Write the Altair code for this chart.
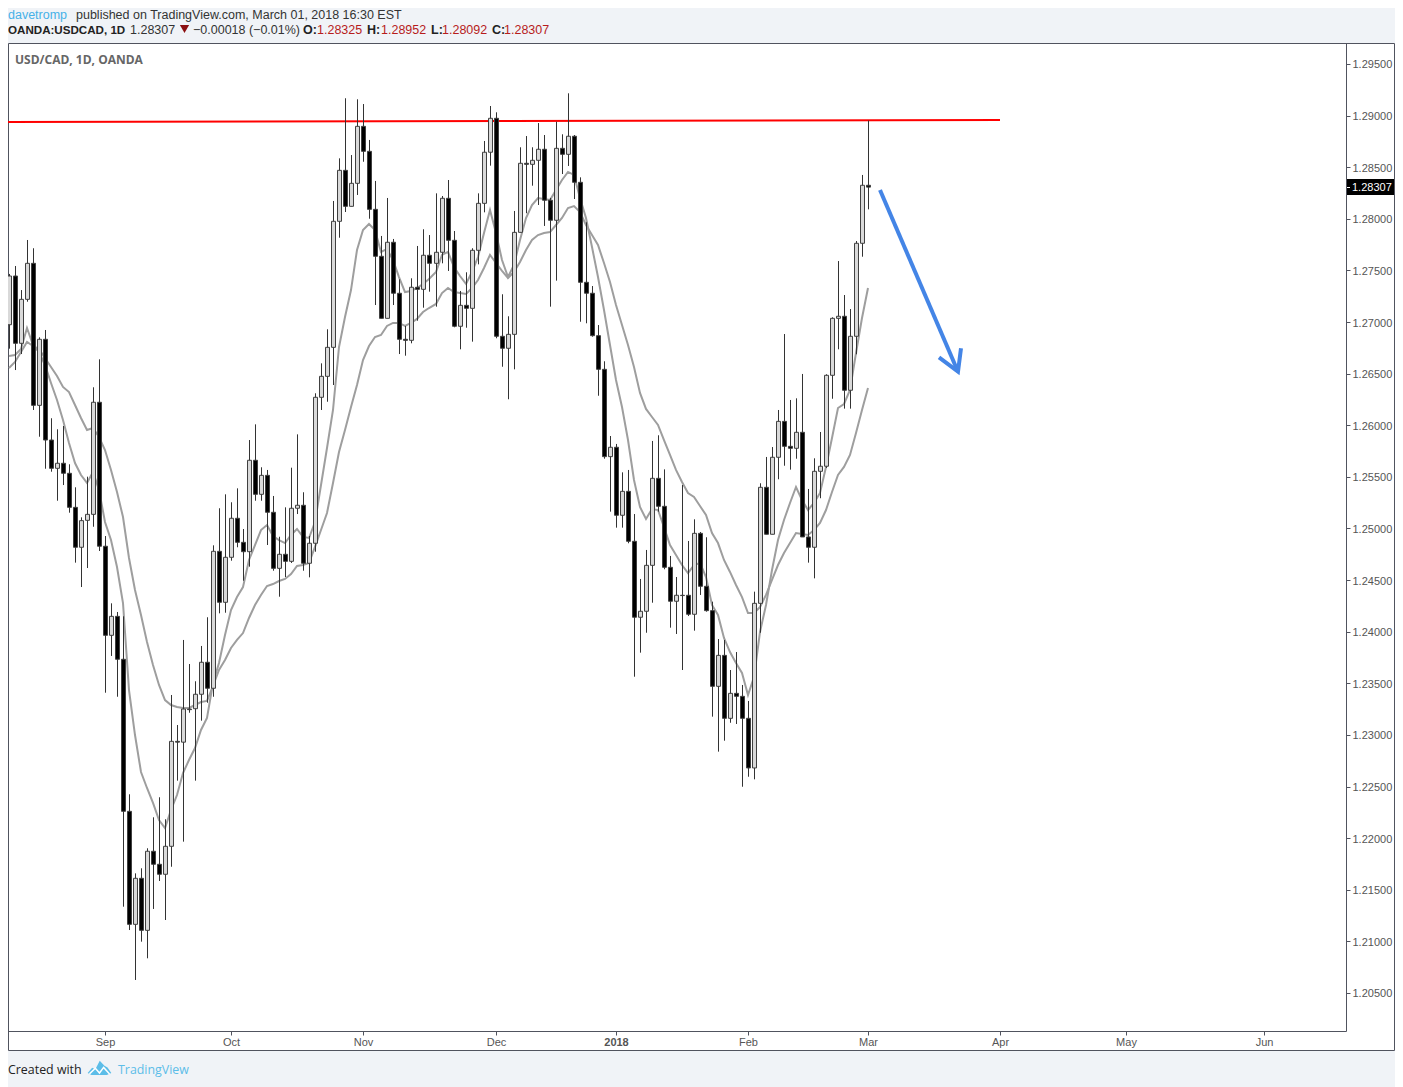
import altair as alt
import pandas as pd

OPEN = [1.26974,1.27446,1.26794,1.27220,1.27569,1.26193,1.26833,1.25857,1.25583,1.25632,1.25535,1.25205,1.24818,1.25079,1.25137,1.26223,
1.24828,1.23965,1.24149,1.23733,1.22260,1.21165,1.21611,1.21107,1.21873,1.21747,1.21650,1.21921,1.22938,1.22930,1.23251,1.23254,
1.23394,1.23704,1.23452,1.24779,1.24285,1.24721,1.25099,1.24866,1.24775,1.25661,1.25331,1.25515,1.25157,1.24614,1.24750,1.24682,
1.25196,1.25225,1.24663,1.24857,1.26271,1.26474,1.26755,1.27976,1.28470,1.28121,1.28344,1.28896,1.28654,1.28092,1.27637,1.27036,
1.27773,1.27279,1.26833,1.26823,1.27337,1.27317,1.27647,1.27569,1.27676,1.28199,1.27792,1.26959,1.27162,1.27133,1.27695,1.28150,
1.28645,1.28974,1.26862,1.26746,1.26881,1.27869,1.28538,1.28528,1.28567,1.28674,1.28180,1.27986,1.28683,1.28625,1.28800,1.28354,
1.27385,1.27279,1.26868,1.26542,1.25696,1.25787,1.25128,1.25360,1.24876,1.24140,1.24198,1.24643,1.25486,1.25215,1.24624,1.24295,
1.24353,1.24353,1.24169,1.24953,1.24440,1.24204,1.23471,1.23771,1.23161,1.23403,1.23374,1.23161,1.22680,1.24275,1.25399,1.24944,
1.25690,1.26038,1.25796,1.25777,1.25932,1.24918,1.24818,1.25554,1.25603,1.26484,1.27036,1.27056,1.26339,1.26862,1.27763,1.28325]
HIGH = [1.27466,1.27543,1.27310,1.27795,1.27715,1.26852,1.26923,1.26068,1.25961,1.25993,1.25622,1.25399,1.25108,1.25502,1.26368,1.26639,
1.24927,1.24275,1.24191,1.24149,1.22425,1.21659,1.21708,1.21902,1.22202,1.22396,1.22183,1.23387,1.23096,1.23920,1.23687,1.23520,
1.23862,1.24140,1.24837,1.25196,1.25331,1.25254,1.25389,1.24995,1.25857,1.26009,1.25593,1.25567,1.25315,1.24920,1.25205,1.25589,
1.25912,1.25351,1.24927,1.26310,1.26600,1.26930,1.28173,1.28586,1.29168,1.28618,1.29158,1.29112,1.28764,1.28367,1.27834,1.28202,
1.27805,1.27414,1.26962,1.27424,1.27737,1.27899,1.27843,1.28247,1.28221,1.28376,1.27882,1.27301,1.27482,1.27715,1.28247,1.28754,
1.29093,1.29032,1.27269,1.27056,1.28076,1.28693,1.28802,1.28693,1.28928,1.28812,1.28202,1.28941,1.28819,1.29216,1.28812,1.28402,
1.27966,1.27349,1.26971,1.26620,1.25896,1.25819,1.25544,1.25567,1.25140,1.24511,1.24792,1.25848,1.25903,1.25573,1.24734,1.24530,
1.25421,1.24879,1.25089,1.24966,1.24915,1.24291,1.23929,1.23920,1.23629,1.23803,1.23484,1.23329,1.24388,1.25438,1.25693,1.25789,
1.26148,1.26884,1.26245,1.26261,1.26497,1.25383,1.25680,1.25935,1.26494,1.27046,1.27591,1.27262,1.27126,1.27785,1.28425,1.28952]
LOW = [1.26742,1.26535,1.26690,1.27197,1.26148,1.25889,1.25579,1.25550,1.25269,1.25421,1.25153,1.24669,1.24433,1.24617,1.25017,1.24782,
1.23409,1.23765,1.23370,1.21336,1.21110,1.20626,1.20997,1.20836,1.21314,1.21585,1.21207,1.21723,1.22557,1.21966,1.23215,1.22557,
1.23138,1.23312,1.23370,1.24178,1.24184,1.24688,1.24818,1.24494,1.24630,1.25269,1.25269,1.24840,1.24591,1.24339,1.24530,1.24666,
1.25140,1.24591,1.24527,1.24775,1.26148,1.26228,1.26390,1.27817,1.28066,1.28121,1.28231,1.28553,1.28001,1.27165,1.27036,1.27036,
1.27165,1.26690,1.26674,1.26794,1.27013,1.27139,1.27294,1.27149,1.27569,1.27495,1.26949,1.26736,1.26945,1.26810,1.27559,1.28063,
1.28515,1.26843,1.26567,1.26252,1.26542,1.27869,1.28054,1.28321,1.28134,1.27931,1.27149,1.27401,1.28434,1.28512,1.28192,1.27003,
1.26988,1.26858,1.26286,1.25676,1.25163,1.25008,1.25008,1.24857,1.23564,1.23797,1.23990,1.24281,1.25163,1.24605,1.24039,1.23978,
1.23629,1.24152,1.24010,1.24356,1.24194,1.23177,1.22838,1.22944,1.23118,1.23106,1.22498,1.22595,1.22570,1.23990,1.24944,1.24944,
1.25477,1.25608,1.25570,1.25676,1.24918,1.24669,1.24517,1.25293,1.25586,1.26257,1.26736,1.26161,1.26161,1.26688,1.27633,1.28092]
CLOSE = [1.27446,1.26794,1.27220,1.27569,1.26193,1.26833,1.25857,1.25583,1.25632,1.25535,1.25205,1.24818,1.25076,1.25137,1.26223,1.24828,
1.23965,1.24149,1.23733,1.22260,1.21165,1.21611,1.21107,1.21873,1.21747,1.21650,1.21921,1.22938,1.22930,1.23251,1.23245,1.23394,
1.23704,1.23452,1.24779,1.24285,1.24721,1.25099,1.24866,1.24775,1.25661,1.25331,1.25515,1.25157,1.24614,1.24750,1.24682,1.25196,
1.25225,1.24663,1.24857,1.26271,1.26474,1.26755,1.27976,1.28470,1.28121,1.28344,1.28896,1.28654,1.28092,1.27637,1.27036,1.27773,
1.27279,1.26833,1.26823,1.27337,1.27317,1.27647,1.27569,1.27676,1.28199,1.27792,1.26959,1.27162,1.27133,1.27695,1.28150,1.28645,
1.28974,1.26862,1.26746,1.26881,1.27869,1.28538,1.28528,1.28567,1.28674,1.28180,1.27986,1.28683,1.28625,1.28800,1.28354,1.27385,
1.27279,1.26868,1.26542,1.25696,1.25787,1.25128,1.25360,1.24876,1.24140,1.24198,1.24643,1.25486,1.25215,1.24624,1.24295,1.24353,
1.24350,1.24169,1.24953,1.24440,1.24204,1.23471,1.23771,1.23161,1.23403,1.23374,1.23161,1.22680,1.24275,1.25399,1.24944,1.25690,
1.26038,1.25796,1.25777,1.25932,1.24918,1.24818,1.25554,1.25603,1.26484,1.27036,1.27056,1.26339,1.26862,1.27763,1.28325,1.28307]

MA_FAST = [1.26671,1.26681,1.26739,1.26942,1.26778,1.26710,1.26584,1.26410,1.26245,1.26051,1.25828,1.25634,1.25518,1.25441,1.25547,1.25373,
1.25063,1.24888,1.24627,1.24278,1.23435,1.22999,1.22641,1.22486,1.22341,1.22176,1.22098,1.22273,1.22418,1.22631,1.22757,1.22873,
1.23048,1.23164,1.23503,1.23697,1.23968,1.24210,1.24336,1.24433,1.24695,1.24840,1.24985,1.25034,1.24927,1.24888,1.24859,1.24937,
1.24995,1.24918,1.24908,1.25063,1.25421,1.25780,1.26148,1.26758,1.27049,1.27310,1.27698,1.27892,1.27950,1.27892,1.27679,1.27708,
1.27601,1.27436,1.27291,1.27301,1.27330,1.27369,1.27417,1.27485,1.27650,1.27679,1.27533,1.27446,1.27369,1.27485,1.27630,1.27863,
1.28086,1.27863,1.27601,1.27436,1.27553,1.27795,1.28008,1.28134,1.28202,1.28192,1.28182,1.28279,1.28376,1.28454,1.28425,1.28202,
1.28008,1.27727,1.27436,1.27117,1.26778,1.26439,1.26177,1.25857,1.25470,1.25208,1.25092,1.25189,1.25179,1.25014,1.24840,1.24743,
1.24646,1.24569,1.24646,1.24666,1.24530,1.24259,1.24162,1.23939,1.23803,1.23697,1.23600,1.23387,1.23561,1.23997,1.24259,1.24598,
1.24888,1.25082,1.25247,1.25402,1.25276,1.25179,1.25247,1.25344,1.25596,1.25877,1.26167,1.26206,1.26342,1.26700,1.27039,1.27330]
MA_SLOW = [1.26555,1.26613,1.26710,1.26807,1.26768,1.26739,1.26652,1.26565,1.26477,1.26371,1.26322,1.26196,1.26070,1.25954,1.25974,1.25886,
1.25760,1.25567,1.25354,1.25111,1.24714,1.24404,1.24162,1.23900,1.23678,1.23484,1.23338,1.23290,1.23271,1.23261,1.23261,1.23290,
1.23319,1.23329,1.23474,1.23629,1.23726,1.23842,1.23920,1.23987,1.24133,1.24259,1.24356,1.24443,1.24462,1.24491,1.24511,1.24559,
1.24637,1.24646,1.24666,1.24821,1.24985,1.25150,1.25441,1.25741,1.25954,1.26177,1.26390,1.26632,1.26768,1.26855,1.26875,1.26962,
1.26991,1.26991,1.26962,1.26991,1.27030,1.27097,1.27136,1.27175,1.27281,1.27330,1.27291,1.27281,1.27272,1.27330,1.27407,1.27524,
1.27650,1.27572,1.27495,1.27427,1.27485,1.27582,1.27698,1.27795,1.27843,1.27863,1.27872,1.27940,1.28008,1.28105,1.28124,1.28066,
1.27940,1.27843,1.27746,1.27572,1.27388,1.27165,1.26971,1.26778,1.26565,1.26313,1.26158,1.26080,1.26003,1.25857,1.25712,1.25567,
1.25450,1.25344,1.25305,1.25218,1.25131,1.24956,1.24859,1.24695,1.24579,1.24453,1.24336,1.24181,1.24181,1.24239,1.24356,1.24501,
1.24646,1.24763,1.24859,1.24956,1.24947,1.24937,1.24985,1.25053,1.25179,1.25354,1.25518,1.25596,1.25712,1.25925,1.26148,1.26361]

RED_BAR = [-0.25, 164.9]
RED_PRICE = [1.28938, 1.28957]
ARROW_BAR = [145.0, 158.0, 154.9, 158.0, 158.55]
ARROW_PRICE = [1.28279, 1.26519, 1.26658, 1.26519, 1.26745]
ARROW_PART = ["shaft", "shaft", "head", "head", "head"]

TICK_BARS = [16, 37, 59, 81, 101, 123, 143, 165, 186, 209]
TICK_LABELS = ["Sep", "Oct", "Nov", "Dec", "2018", "Feb", "Mar", "Apr", "May", "Jun"]
PRICE_TICKS = [1.205, 1.21, 1.215, 1.22, 1.225, 1.23, 1.235, 1.24, 1.245, 1.25, 1.255, 1.26,
               1.265, 1.27, 1.275, 1.28, 1.285, 1.29, 1.295]
LAST_PRICE = "1.28307"

assert len(OPEN) == len(HIGH) == len(LOW) == len(CLOSE) == len(MA_FAST) == len(MA_SLOW) == 144

BG = "#f0f3f7"
FRAME = "#50535e"
AXIS_TEXT = "#555555"
SANS = "Open Sans"
HEAD = "Liberation Sans"

candles = pd.DataFrame({"bar": range(144), "open": OPEN, "high": HIGH, "low": LOW, "close": CLOSE})
candles["dir"] = ["up" if c >= o else "down" for o, c in zip(OPEN, CLOSE)]
ma = pd.DataFrame({"bar": list(range(144)) * 2,
                   "price": MA_FAST + MA_SLOW,
                   "name": ["fast"] * 144 + ["slow"] * 144})
red = pd.DataFrame({"bar": RED_BAR, "price": RED_PRICE})
arrow = pd.DataFrame({"bar": ARROW_BAR, "price": ARROW_PRICE, "part": ARROW_PART, "n": range(5)})

PW, PH = 1338, 988
sx = alt.Scale(domain=[-0.1665, 222.57], range=[0, PW], round=True, nice=False, zero=False, padding=0)
sy = alt.Scale(domain=[1.201317, 1.297034], range=[PH, 0], nice=False, zero=False, padding=0)

tick_js = "[" + ",".join(str(t) for t in TICK_BARS) + "]"
lab_js = "[" + ",".join(f"'{t}'" for t in TICK_LABELS) + "]"
x_axis = alt.Axis(values=TICK_BARS, title=None, grid=False, orient="bottom", zindex=1,
                  labelExpr=f"{lab_js}[indexof({tick_js}, datum.value)]",
                  labelFontWeight=alt.expr("datum.value == 101 ? 'bold' : 'normal'"),
                  labelColor=AXIS_TEXT, labelFont="Liberation Sans", labelFontSize=11,
                  tickColor=FRAME, tickSize=4, domainColor=FRAME, labelPadding=1,
                  labelOverlap=False)
y_axis = alt.Axis(values=PRICE_TICKS, title=None, grid=False, orient="right", format=".5f", zindex=1,
                  labelColor=AXIS_TEXT, labelFont="Liberation Sans", labelFontSize=11,
                  tickColor=FRAME, tickSize=4, domainColor=FRAME, labelPadding=2, labelOffset=1,
                  labelOverlap=False)
X = alt.X("bar:Q", scale=sx, axis=x_axis)
Y = alt.Y("price:Q", scale=sy, axis=y_axis)
Yl = alt.Y("low:Q", scale=sy, axis=y_axis)
Yo = alt.Y("open:Q", scale=sy, axis=y_axis)


def note(text, x, y, color="#333333", weight="normal", size=12, font=SANS, align="left"):
    return alt.Chart().mark_text(align=align, baseline="alphabetic", color=color, fontWeight=weight,
                                 fontSize=size, font=font).encode(
        x=alt.value(x), y=alt.value(y), text=alt.value(text))


panel = alt.Chart().mark_rect(fill="white", stroke=FRAME, strokeWidth=1).encode(
    x=alt.value(0.5), x2=alt.value(1386.5), y=alt.value(0.5), y2=alt.value(1007.5))

ma_lines = alt.Chart(ma).mark_line(color="#9e9e9e", strokeWidth=2, clip=True).encode(
    x=X, y=Y, detail="name:N")
wicks = alt.Chart(candles).mark_rule(color="#333333", strokeWidth=1, xOffset=0.5).encode(
    x=X, y=Yl, y2="high:Q")
bodies = alt.Chart(candles).mark_bar(size=4, stroke="#404040", strokeWidth=1, xOffset=0.5).encode(
    x=X, y=Yo, y2="close:Q",
    fill=alt.Fill("dir:N", scale=alt.Scale(domain=["up", "down"], range=["#d9d9d9", "#000000"]), legend=None))
red_line = alt.Chart(red).mark_line(color="#ff0000", strokeWidth=2).encode(x=X, y=Y)
arrow_line = alt.Chart(arrow).mark_line(color="#4485e6", strokeWidth=4, strokeCap="butt").encode(
    x=X, y=Y, detail="part:N", order="n:Q")

tag = alt.Chart().mark_rect(fill="black").encode(
    x=alt.value(1338), x2=alt.value(1386), y=alt.value(136), y2=alt.value(152))
tag_tick = alt.Chart().mark_rule(color="white", strokeWidth=1).encode(
    x=alt.value(1338), x2=alt.value(1342), y=alt.value(144.5))

logo_cloud = alt.Chart().mark_point(
    shape="M-1,0.42 L-0.62,-0.02 L-0.35,0.1 L0.02,-0.62 L0.42,-0.2 L0.68,-0.05 L1,0.42 L0.62,0.6 L-0.68,0.6 Z",
    size=560, filled=True, color="#5cbde8", opacity=1).encode(x=alt.value(91.5), y=alt.value(1025))
logo_zig = alt.Chart().mark_point(
    shape="M-0.85,0.5 L-0.35,0.02 L0,0.42 L0.35,-0.05 L0.85,0.5",
    size=560, filled=False, color="white", strokeWidth=1.5, opacity=1).encode(x=alt.value(91.5), y=alt.value(1025))
triangle = alt.Chart().mark_point(shape="triangle-down", filled=True, color="#8b0f0f", size=85, opacity=1).encode(
    x=alt.value(176.5), y=alt.value(-14))

texts = [
    note("davetromp", 0, -23.6, color="#45b1e8", size=12.5, font=HEAD),
    note("published on TradingView.com, March 01, 2018 16:30 EST", 68, -23.6, size=12.5, font=HEAD),
    note("OANDA:USDCAD, 1D", 0, -9, color="#222222", weight="bold", size=11.6, font=HEAD),
    note("1.28307", 122, -9, size=12.5, font=HEAD),
    note("\u22120.00018 (\u22120.01%)", 185, -9, size=12.5, font=HEAD),
    note("O:", 295, -9, color="#222222", weight="bold", size=12.5, font=HEAD),
    note("1.28325", 309, -9, color="#b71c1c", size=12.5, font=HEAD),
    note("H:", 359, -9, color="#222222", weight="bold", size=12.5, font=HEAD),
    note("1.28952", 373, -9, color="#b71c1c", size=12.5, font=HEAD),
    note("L:", 423, -9, color="#222222", weight="bold", size=12.5, font=HEAD),
    note("1.28092", 434, -9, color="#b71c1c", size=12.5, font=HEAD),
    note("C:", 484, -9, color="#222222", weight="bold", size=12.5, font=HEAD),
    note("1.28307", 496, -9, color="#b71c1c", size=12.5, font=HEAD),
    note("USD/CAD, 1D, OANDA", 7, 21, color="#666666", weight="bold"),
    note("Created with", 0, 1031, color="#222222", size=12.4),
    note("TradingView", 110, 1031, color="#5cbde8", size=12.4),
    note(LAST_PRICE, 1344, 148, color="white", size=11, font="Liberation Sans"),
]

chart = alt.layer(panel, red_line, ma_lines, wicks, bodies, arrow_line, tag, tag_tick,
                  logo_cloud, logo_zig, triangle, *texts).properties(
    width=PW, height=PH, background=BG,
    padding={"left": 0, "top": 35, "right": 49, "bottom": 56},
    autosize=alt.AutoSizeParams(type="none"),
).configure_view(stroke=None)

chart.save("out.html", embed_options={"renderer": "svg", "actions": False})
